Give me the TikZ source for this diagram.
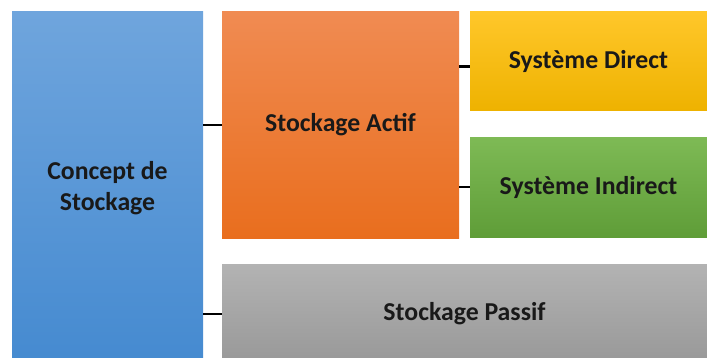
\documentclass[tikz,border=0pt]{standalone}
\usepackage{fontspec}
\setmainfont{Carlito}
\usetikzlibrary{positioning}

\definecolor{blueTop}{HTML}{6FA5DD}
\definecolor{blueBot}{HTML}{458AD0}
\definecolor{orangeTop}{HTML}{F08B52}
\definecolor{orangeBot}{HTML}{E96E1E}
\definecolor{yellowTop}{HTML}{FFC72A}
\definecolor{yellowBot}{HTML}{EEB200}
\definecolor{greenTop}{HTML}{7EBA55}
\definecolor{greenBot}{HTML}{5F9D38}
\definecolor{grayTop}{HTML}{B3B3B3}
\definecolor{grayBot}{HTML}{989898}

\tikzset{
  block/.style={rectangle, inner sep=0pt, draw=none, align=center,
    font=\bfseries\fontsize{22}{26}\selectfont, text=black!90},
  link/.style={draw=black, line width=2.4pt},
}

\begin{document}
\begin{tikzpicture}
  \useasboundingbox[fill=white] (0cm,0cm) rectangle (21.21cm,-10.74cm);
  % left column
  \node[block, top color=blueTop, bottom color=blueBot,
    minimum width=5.73cm, minimum height=10.56cm] (concept) at (3.225cm,-5.64cm) {Concept de\\Stockage};
  % active storage and its two systems
  \node[block, top color=orangeTop, bottom color=orangeBot,
    minimum width=7.11cm, minimum height=6.78cm] (actif) at (10.215cm,-3.75cm) {Stockage Actif};
  \node[block, top color=yellowTop, bottom color=yellowBot,
    minimum width=7.11cm, minimum height=2.97cm] (direct) at (17.655cm,-1.845cm) {Système Direct};
  \node[block, top color=greenTop, bottom color=greenBot,
    minimum width=7.11cm, minimum height=3.0cm] (indirect) at (17.655cm,-5.61cm) {Système Indirect};
  % passive storage
  \node[block, top color=grayTop, bottom color=grayBot,
    minimum width=14.55cm, minimum height=3.0cm] (passif) at (13.935cm,-9.42cm) {Stockage Passif};

  \draw[link] (actif.west -| concept.east) -- (actif.west);
  \draw[link] ([yshift=-0.15cm]direct.west -| actif.east) -- ([yshift=-0.15cm]direct.west);
  \draw[link] (indirect.west -| actif.east) -- (indirect.west);
  \draw[link] (passif.west -| concept.east) -- (passif.west);
\end{tikzpicture}
\end{document}
